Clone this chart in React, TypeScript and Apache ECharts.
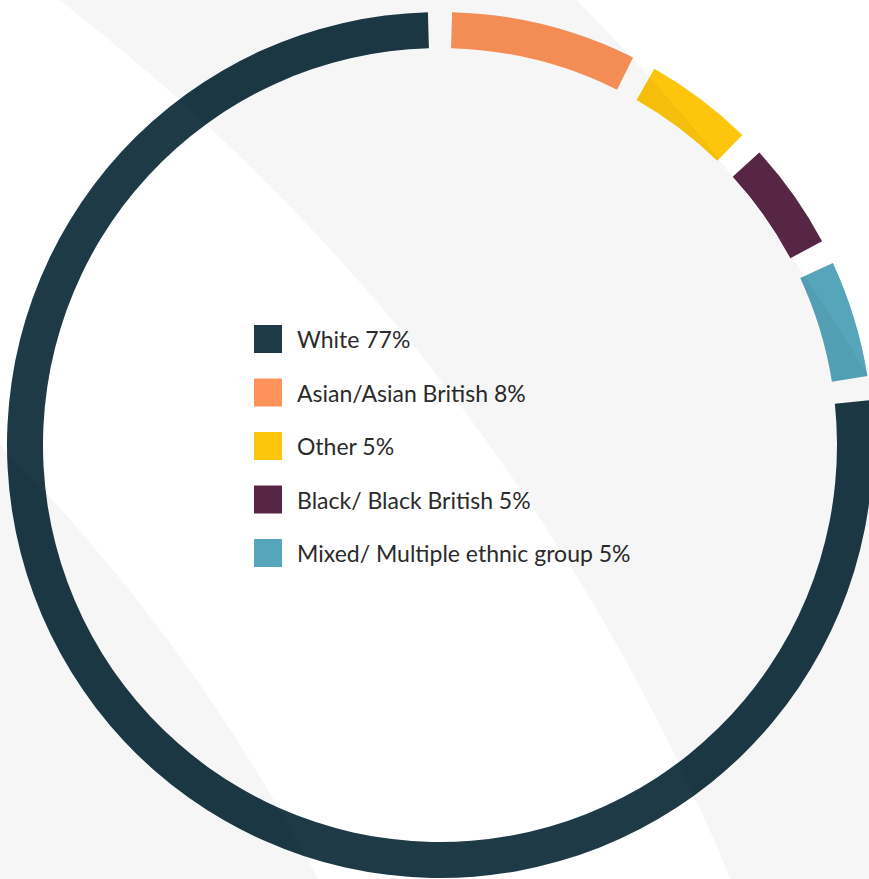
import React, { useEffect, useRef } from 'react';
import * as echarts from 'echarts';

// Legend / category order
const categories = ['White', 'Asian/Asian British', 'Other', 'Black/ Black British', 'Mixed/ Multiple ethnic group'];
// rounded percentages shown in the legend
const percentages = [77, 8, 5, 5, 5];
// ring shares as read from the drawn arc lengths
const ringShares = [77.1, 7.8, 4.95, 4.9, 5.25];
const colors = ['#1e3a47', '#fd925a', '#fdc50c', '#582645', '#56a5bb'];
// Clockwise drawing order around the ring, starting at 12 o'clock
const ringOrder = ['Asian/Asian British', 'Other', 'Black/ Black British', 'Mixed/ Multiple ethnic group', 'White'];

// decorative background swoosh geometry (circles)
const C1 = { cx: -1249, cy: 1695, r: 2141 };
const C2 = { cx: -745, cy: 1326, r: 1872 };
const C3 = { cx: -1294, cy: 1726, r: 1821 };

function rightX(c: { cx: number; cy: number; r: number }, y: number) {
  return c.cx + Math.sqrt(Math.max(0, c.r * c.r - (y - c.cy) * (y - c.cy)));
}

function bandPolygon(): number[][] {
  const pts: number[][] = [];
  for (let y = -100; y <= 1000; y += 10) pts.push([rightX(C1, y), y]);
  for (let y = 1000; y >= -100; y -= 10) pts.push([rightX(C2, y), y]);
  return pts;
}

export default function App() {
  const ref = useRef<HTMLDivElement>(null);
  useEffect(() => {
    document.body.style.margin = '0';
    if (!ref.current) return;
    const chart = echarts.init(ref.current, undefined, { renderer: 'svg' });
    const colorOf: Record<string, string> = {};
    const pctOf: Record<string, number> = {};
    const shareOf: Record<string, number> = {};
    categories.forEach((c, i) => {
      colorOf[c] = colors[i];
      pctOf[c] = percentages[i];
      shareOf[c] = ringShares[i];
    });
    chart.setOption({
      animation: false,
      backgroundColor: '#ffffff',
      legend: {
        data: categories,
        orient: 'vertical',
        left: 254,
        top: 325,
        padding: 0,
        itemWidth: 28,
        itemHeight: 28,
        itemGap: 25.5,
        icon: 'rect',
        selectedMode: false,
        formatter: (name: string) => `${name} ${pctOf[name]}%`,
        textStyle: {
          fontFamily: 'Lato',
          fontSize: 23,
          color: '#2b2b2b',
          padding: [0, 0, 0, 10],
        },
      },
      graphic: [
        {
          type: 'polygon',
          z: 100,
          silent: true,
          shape: { points: bandPolygon() },
          style: { fill: 'rgba(0,0,0,0.035)' },
        },
        {
          type: 'circle',
          z: 100,
          silent: true,
          shape: { cx: C3.cx, cy: C3.cy, r: C3.r },
          style: { fill: 'rgba(0,0,0,0.035)' },
        },
      ],
      series: [
        {
          type: 'pie',
          center: [440, 445],
          radius: [397, 433],
          startAngle: 90,
          clockwise: true,
          padAngle: 3.2,
          avoidLabelOverlap: false,
          label: { show: false },
          labelLine: { show: false },
          emphasis: { disabled: true },
          itemStyle: { borderWidth: 0 },
          data: ringOrder.map((name) => ({
            name,
            value: shareOf[name],
            itemStyle: { color: colorOf[name] },
          })),
        },
      ],
    });
    return () => chart.dispose();
  }, []);
  return (
    <div
      ref={ref}
      style={{ position: 'fixed', left: 0, top: 0, width: 869, height: 879 }}
    />
  );
}
